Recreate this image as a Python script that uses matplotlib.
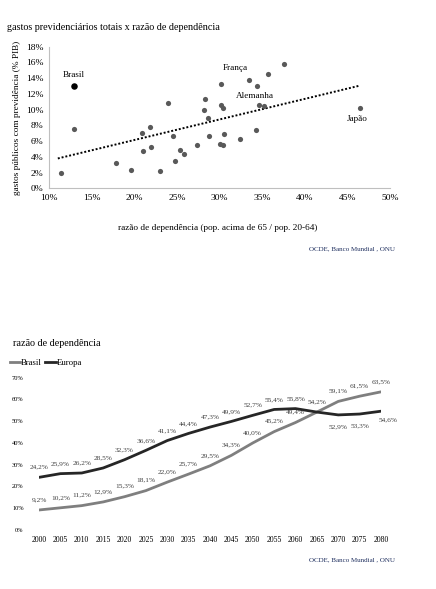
import matplotlib
matplotlib.use('Agg')
import matplotlib.pyplot as plt
from matplotlib.lines import Line2D
import numpy as np

matplotlib.rcParams['font.family'] = 'serif'
matplotlib.rcParams['font.serif'] = ['Liberation Serif', 'DejaVu Serif']

# scatter: dependency ratio (%) x public pension spending (% GDP)
dep_ratio = [12.9, 12.9, 11.4, 17.8, 19.6, 20.9, 21.0, 21.8, 21.9, 23.0, 23.9,
             24.5, 24.8, 25.3, 25.8, 27.3, 28.2, 28.3, 28.6, 28.8, 30.1, 30.1,
             30.4, 30.0, 30.4, 30.5, 32.4, 33.5, 34.4, 34.3, 34.6, 35.2, 35.7,
             37.5, 46.5]
spending = [13.0, 7.5, 1.9, 3.25, 2.3, 7.0, 4.8, 7.75, 5.3, 2.15, 10.9,
            6.7, 3.5, 4.85, 4.35, 5.45, 9.95, 11.4, 8.9, 6.6, 13.2, 10.6,
            10.2, 5.65, 5.45, 6.9, 6.25, 13.75, 13.0, 7.4, 10.6, 10.4, 14.5,
            15.8, 10.2]
countries = {0: 'Brasil', 27: 'França', 30: 'Alemanha', 34: 'Japão'}

# line chart: dependency ratio projections
years = [2000, 2005, 2010, 2015, 2020, 2025, 2030, 2035, 2040, 2045, 2050,
         2055, 2060, 2065, 2070, 2075, 2080]
brasil = [9.2, 10.2, 11.2, 12.9, 15.3, 18.1, 22.0, 25.7, 29.5, 34.3, 40.0,
          45.2, 49.4, 54.2, 59.1, 61.5, 63.5]
europa = [24.2, 25.9, 26.2, 28.5, 32.3, 36.6, 41.1, 44.4, 47.3, 49.9, 52.7,
          55.4, 55.8, 54.2, 52.9, 53.3, 54.6]

source = 'OCDE, Banco Mundial , ONU'

fig = plt.figure(figsize=(4.36, 5.89), dpi=100)

# ---- top: scatter ----
ax1 = fig.add_axes([49.3/436, 1-188.3/589, (390-49.3)/436, (188.3-46.7)/589])
ax1.scatter(dep_ratio[1:], spending[1:], s=14, color='#595959', zorder=3, linewidths=0)
ax1.scatter(dep_ratio[:1], spending[:1], s=22, color='black', zorder=4, linewidths=0)

# linear trend
coef = np.polyfit(dep_ratio, spending, 1)
xt = np.array([11.0, 46.3])
ax1.plot(xt, np.polyval(coef, xt), ls=(0, (1, 1)), color='black', lw=1.4)

offsets = {'Brasil': (0, 8), 'França': (-10, 8.5), 'Alemanha': (-3, 6.5), 'Japão': (-2.4, -8)}
for i, name in countries.items():
    ax1.annotate(name, (dep_ratio[i], spending[i]), xytext=offsets[name],
                 textcoords='offset points', ha='center', va='center', fontsize=6.6)

ax1.set_xlim(10, 50)
ax1.set_ylim(0, 18)
ax1.set_xticks(np.arange(10, 51, 5))
ax1.set_yticks(np.arange(0, 19, 2))
ax1.set_xticklabels([f'{v}%' for v in range(10, 51, 5)])
ax1.set_yticklabels([f'{v}%' for v in range(0, 19, 2)])
ax1.tick_params(length=0, labelsize=6.8, pad=4)
for s in ['top', 'right']:
    ax1.spines[s].set_visible(False)
for s in ['left', 'bottom']:
    ax1.spines[s].set_color('#bfbfbf')
    ax1.spines[s].set_linewidth(0.8)
ax1.set_ylabel('gastos públicos com previdência (% PIB)', fontsize=6.7, labelpad=4)

fig.text(7/436, 1-28/589, 'gastos previdenciários totais x razão de dependência',
         fontsize=7.3, va='center', ha='left')
fig.text(218/436, 1-228/589, 'razão de dependência (pop. acima de 65 / pop. 20-64)',
         fontsize=6.7, va='center', ha='center')
fig.text(395/436, 1-249/589, source, fontsize=5, va='center', ha='right', color='#1f2f5f')

# ---- bottom: lines ----
ax2 = fig.add_axes([39/436, 1-530/589, (381-39)/436, (530-377.7)/589])
ax2.plot(years, brasil, color='#7f7f7f', lw=2, solid_capstyle='round')
ax2.plot(years, europa, color='#262626', lw=2, solid_capstyle='round')

for x, v in zip(years, brasil):
    ax2.annotate(f'{v:.1f}%'.replace('.', ','), (x, v), xytext=(0, 7.5),
                 textcoords='offset points', ha='center', va='center',
                 fontsize=5.3, color='#404040')
for x, v, b in zip(years, europa, brasil):
    if v == b:
        continue
    off = (0, 7.2)
    if x >= 2070:
        off = (0, -8.3) if x < 2080 else (5, -6.5)
    ax2.annotate(f'{v:.1f}%'.replace('.', ','), (x, v), xytext=off,
                 textcoords='offset points', ha='center', va='center',
                 fontsize=5.3, color='#404040')

ax2.set_xlim(2000, 2080)
ax2.set_ylim(0, 70)
ax2.set_xticks(years)
ax2.set_yticks(np.arange(0, 71, 10))
ax2.set_yticklabels([f'{v}%' for v in range(0, 71, 10)])
ax2.tick_params(axis='x', length=0, labelsize=5.6, pad=4)
ax2.tick_params(axis='y', length=0, labelsize=4.6, pad=11)
for s in ax2.spines.values():
    s.set_visible(False)

fig.text(13/436, 1-344/589, 'razão de dependência', fontsize=7.3, va='center', ha='left')
handles = [Line2D([], [], color='#7f7f7f', lw=2), Line2D([], [], color='#262626', lw=2)]
fig.legend(handles, ['Brasil', 'Europa'], loc='center left',
           bbox_to_anchor=(6/436, 1-363/589), ncol=2, frameon=False, fontsize=6.3,
           handlelength=1.2, handletextpad=0.1, columnspacing=0.4, borderaxespad=0)
fig.text(395/436, 1-560/589, source, fontsize=5, va='center', ha='right', color='#1f2f5f')

fig.savefig('out.png', dpi=100)
